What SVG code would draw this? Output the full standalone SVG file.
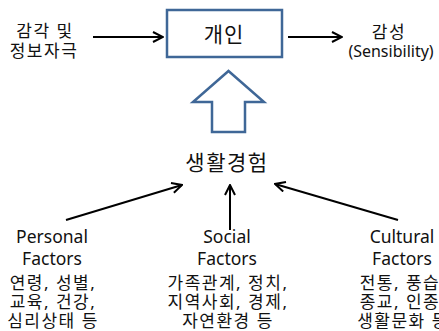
<svg xmlns="http://www.w3.org/2000/svg" width="439" height="331" viewBox="0 0 439 331">
<defs>
<marker id="ah" viewBox="0 0 12 12" refX="11" refY="6" markerWidth="12" markerHeight="12" markerUnits="userSpaceOnUse" orient="auto">
<polyline points="1,1 11,6 1,11" fill="none" stroke="#000" stroke-width="2"/>
</marker>
<style>
text{font-family:"Noto Sans","Noto Sans CJK KR",sans-serif;fill:#111;text-anchor:middle}
.k{font-size:17px;letter-spacing:1.5px}
.e{font-size:17.5px}
.c{stroke:#000;stroke-width:2;fill:none;marker-end:url(#ah)}
.b{stroke:#3F6797;stroke-width:2.5;fill:#fff}
</style>
</defs>
<rect width="439" height="331" fill="#fff"/>
<g id="input">
<text x="45" y="37" style="font-size:17px;letter-spacing:1.5px">감각 및</text>
<text x="44" y="57" style="font-size:17px;letter-spacing:1.5px">정보자극</text>
</g>
<g id="individual">
<rect class="b" x="167" y="10" width="115" height="47"/>
<text x="224" y="42" style="font-size:21px;letter-spacing:1px">개인</text>
</g>
<g id="sensibility">
<text x="389" y="38" style="font-size:17px;letter-spacing:1.5px">감성</text>
<text x="391" y="57" style="font-size:16px">(Sensibility)</text>
</g>
<g id="block-arrow">
<polygon class="b" points="228.5,71 264,102 245,102 245,132 212,132 212,102 193,102"/>
</g>
<g id="life-experience">
<text x="227" y="170" style="font-size:21px;letter-spacing:1.5px">생활경험</text>
</g>
<g id="personal">
<text class="e" x="52" y="243">Personal</text>
<text class="e" x="52" y="265">Factors</text>
<text class="k" x="53" y="289">연령, 성별,</text>
<text class="k" x="53" y="308">교육, 건강,</text>
<text class="k" x="53" y="327">심리상태 등</text>
</g>
<g id="social">
<text class="e" x="227" y="243">Social</text>
<text class="e" x="227" y="265">Factors</text>
<text class="k" x="228" y="289">가족관계, 정치,</text>
<text class="k" x="228" y="308">지역사회, 경제,</text>
<text class="k" x="228" y="327">자연환경 등</text>
</g>
<g id="cultural">
<text class="e" x="402" y="243">Cultural</text>
<text class="e" x="402" y="265">Factors</text>
<text class="k" x="403" y="289">전통, 풍습,</text>
<text class="k" x="403" y="308">종교, 인종,</text>
<text class="k" x="403" y="327">생활문화 등</text>
</g>
<g id="connectors">
<line class="c" x1="93" y1="37" x2="163" y2="37"/>
<line class="c" x1="288" y1="37" x2="342" y2="37"/>
<line class="c" x1="66" y1="220" x2="182" y2="185"/>
<line class="c" x1="230" y1="230" x2="230" y2="185"/>
<line class="c" x1="398" y1="220" x2="275" y2="184"/>
</g>
</svg>
